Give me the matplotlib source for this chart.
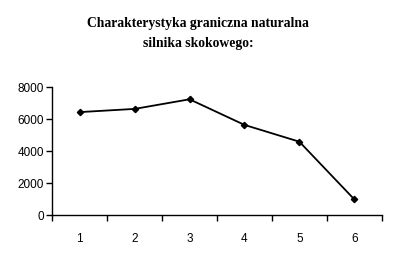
import matplotlib
matplotlib.use("Agg")
import matplotlib.pyplot as plt

categories = ["1", "2", "3", "4", "5", "6"]
values = [6450, 6650, 7250, 5650, 4600, 1000]
y_ticks = [0, 2000, 4000, 6000, 8000]
title = "Charakterystyka graniczna naturalna\nsilnika skokowego:"

fig = plt.figure(figsize=(3.95, 2.63), dpi=100)
ax = fig.add_axes([52.3/395, 1 - 215.3/263, (381.7-52.3)/395, 128/263])
x = list(range(len(categories)))
ax.plot(x, values, color="black", linewidth=1.3, marker="D", markersize=3.2)
ax.set_xlim(-0.5, len(categories) - 0.5)
ax.set_ylim(0, 8000)
ax.set_yticks(y_ticks)
ax.set_yticklabels([str(v) for v in y_ticks])
ax.set_xticks(x)
ax.set_xticklabels(categories)
ax.set_xticks([i - 0.5 for i in range(len(categories) + 1)], minor=True)
ax.tick_params(axis="x", which="major", length=0, pad=13)
ax.tick_params(axis="x", which="minor", length=4, width=1, direction="out")
ax.tick_params(axis="y", length=4, width=1, direction="out", pad=2)
for lab in ax.get_xticklabels() + ax.get_yticklabels():
    lab.set_fontfamily("Liberation Sans")
    lab.set_fontsize(8.5)
for s in ["top", "right"]:
    ax.spines[s].set_visible(False)
for s in ["left", "bottom"]:
    ax.spines[s].set_linewidth(1)
fig.text(198/395, 1 - 33/263, title, ha="center", va="center",
         fontfamily="Liberation Serif", fontweight="bold", fontsize=9.8,
         linespacing=1.7)
fig.savefig("out.png", dpi=100)
